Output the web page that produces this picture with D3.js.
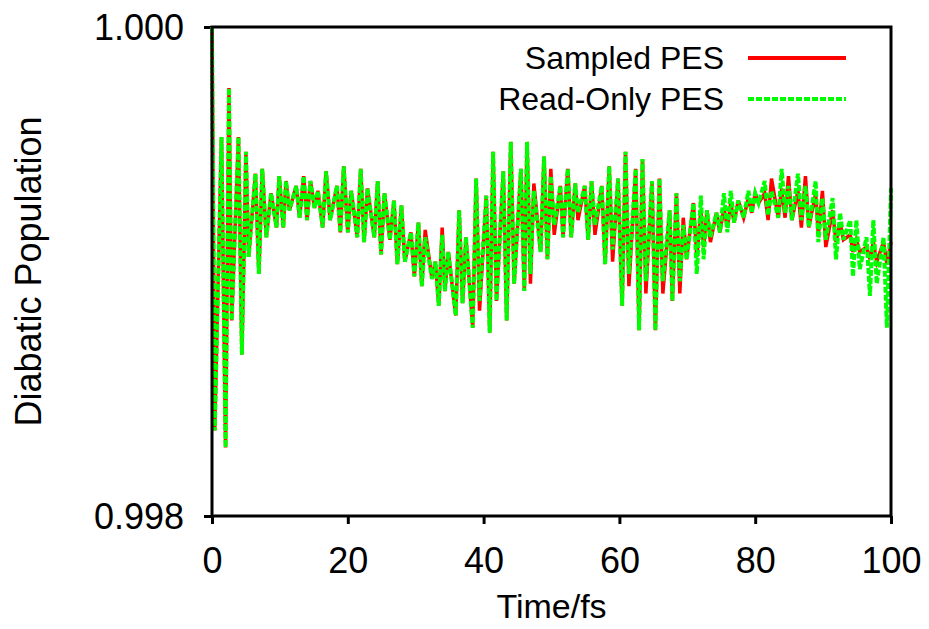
<!DOCTYPE html>
<html>
<head>
<meta charset="utf-8">
<script src="https://cdn.jsdelivr.net/npm/d3@7"></script>
<style>
body { margin: 0; background: #fff; }
text { font-family: "Liberation Sans", Arial, sans-serif; fill: #000; }
</style>
</head>
<body>
<script>
// time (fs) of each sample
var times = [
  0, 0.4, 1.4, 2.0, 2.5, 2.9, 3.9, 4.4, 5.0, 5.4,
  6.4, 6.9, 7.4, 8.0, 8.7, 9.5, 9.9, 10.5, 10.9, 11.4,
  12.4, 12.9, 13.5, 14.0, 14.5, 15.1, 15.6, 16.3, 16.8, 17.4,
  18.4, 18.9, 19.4, 20.0, 20.5, 21.4, 21.9, 22.4, 22.9, 23.9,
  24.4, 24.9, 25.4, 26.2, 26.8, 27.3, 27.9, 28.4, 29.3, 29.8,
  30.4, 30.9, 31.4, 32.4, 32.9, 33.4, 33.9, 34.3, 34.8, 35.9,
  36.4, 36.9, 37.4, 38.4, 38.9, 39.4, 40.4, 40.9, 41.4, 41.9,
  42.9, 43.4, 44.0, 44.5, 45.5, 46.0, 46.4, 46.9, 47.4, 48.4,
  48.9, 49.4, 49.9, 50.4, 51.3, 51.7, 52.4, 52.9, 53.5, 53.9,
  54.9, 55.4, 55.9, 56.4, 57.4, 57.9, 58.5, 59.0, 59.8, 60.4,
  60.9, 61.4, 62.4, 62.9, 63.4, 63.9, 64.8, 65.3, 65.9, 66.4,
  67.4, 67.8, 68.4, 68.9, 69.4, 69.9, 70.9, 71.4, 72.0, 72.4,
  72.9, 73.4, 74.3, 74.8, 75.4, 75.9, 76.4, 76.9, 77.5, 78.3,
  79.0, 79.5, 80.0, 80.5, 81.4, 81.9, 82.4, 83.4, 83.9, 84.4,
  84.9, 85.4, 86.3, 86.8, 87.4, 87.9, 88.9, 89.3, 89.9, 90.4,
  91.4, 91.9, 92.5, 93.0, 94.0, 94.4, 94.9, 95.4, 96.4, 96.9,
  97.4, 97.9, 98.9, 99.4, 100.0
];

var sampled = [
  1.00000, 0.99835, 0.99955, 0.99828, 0.99975, 0.99880, 0.99955, 0.99866, 0.99949, 0.99906,
  0.99940, 0.99899, 0.99942, 0.99914, 0.99932, 0.99918, 0.99939, 0.99918, 0.99937, 0.99925,
  0.99935, 0.99922, 0.99939, 0.99921, 0.99937, 0.99926, 0.99933, 0.99918, 0.99941, 0.99921,
  0.99935, 0.99916, 0.99943, 0.99916, 0.99933, 0.99914, 0.99942, 0.99912, 0.99934, 0.99914,
  0.99937, 0.99907, 0.99932, 0.99913, 0.99929, 0.99903, 0.99927, 0.99904, 0.99916, 0.99898,
  0.99920, 0.99894, 0.99917, 0.99897, 0.99904, 0.99886, 0.99918, 0.99892, 0.99908, 0.99882,
  0.99925, 0.99887, 0.99914, 0.99877, 0.99938, 0.99884, 0.99931, 0.99875, 0.99949, 0.99888,
  0.99941, 0.99880, 0.99953, 0.99895, 0.99942, 0.99892, 0.99953, 0.99895, 0.99936, 0.99908,
  0.99947, 0.99905, 0.99942, 0.99915, 0.99935, 0.99914, 0.99942, 0.99914, 0.99936, 0.99921,
  0.99935, 0.99913, 0.99937, 0.99915, 0.99935, 0.99903, 0.99943, 0.99904, 0.99938, 0.99886,
  0.99949, 0.99894, 0.99942, 0.99876, 0.99946, 0.99891, 0.99937, 0.99876, 0.99938, 0.99891,
  0.99925, 0.99888, 0.99932, 0.99891, 0.99922, 0.99905, 0.99928, 0.99906, 0.99925, 0.99910,
  0.99925, 0.99912, 0.99924, 0.99916, 0.99926, 0.99918, 0.99928, 0.99920, 0.99929, 0.99922,
  0.99930, 0.99924, 0.99932, 0.99928, 0.99932, 0.99921, 0.99938, 0.99922, 0.99934, 0.99922,
  0.99939, 0.99921, 0.99933, 0.99918, 0.99939, 0.99918, 0.99932, 0.99915, 0.99933, 0.99910,
  0.99925, 0.99912, 0.99920, 0.99913, 0.99915, 0.99908, 0.99913, 0.99908, 0.99910, 0.99905,
  0.99912, 0.99904, 0.99912, 0.99903, 0.99912
];

var readOnly = [
  1.00000, 0.99835, 0.99955, 0.99828, 0.99975, 0.99880, 0.99955, 0.99866, 0.99949, 0.99906,
  0.99940, 0.99899, 0.99942, 0.99914, 0.99932, 0.99918, 0.99939, 0.99918, 0.99937, 0.99925,
  0.99935, 0.99922, 0.99939, 0.99921, 0.99937, 0.99926, 0.99933, 0.99918, 0.99941, 0.99921,
  0.99935, 0.99916, 0.99943, 0.99916, 0.99933, 0.99914, 0.99942, 0.99912, 0.99934, 0.99914,
  0.99937, 0.99907, 0.99932, 0.99913, 0.99929, 0.99903, 0.99927, 0.99904, 0.99916, 0.99898,
  0.99920, 0.99894, 0.99914, 0.99897, 0.99904, 0.99886, 0.99915, 0.99892, 0.99908, 0.99882,
  0.99925, 0.99887, 0.99914, 0.99877, 0.99938, 0.99888, 0.99931, 0.99875, 0.99949, 0.99888,
  0.99941, 0.99880, 0.99953, 0.99895, 0.99942, 0.99892, 0.99953, 0.99899, 0.99933, 0.99908,
  0.99947, 0.99905, 0.99939, 0.99919, 0.99935, 0.99914, 0.99942, 0.99914, 0.99936, 0.99924,
  0.99935, 0.99913, 0.99937, 0.99919, 0.99935, 0.99903, 0.99943, 0.99909, 0.99938, 0.99886,
  0.99949, 0.99899, 0.99942, 0.99876, 0.99946, 0.99896, 0.99937, 0.99876, 0.99938, 0.99896,
  0.99925, 0.99888, 0.99932, 0.99896, 0.99919, 0.99905, 0.99928, 0.99899, 0.99931, 0.99905,
  0.99925, 0.99914, 0.99924, 0.99916, 0.99932, 0.99916, 0.99933, 0.99920, 0.99929, 0.99922,
  0.99933, 0.99924, 0.99932, 0.99928, 0.99937, 0.99923, 0.99933, 0.99922, 0.99942, 0.99924,
  0.99935, 0.99921, 0.99940, 0.99921, 0.99935, 0.99918, 0.99937, 0.99912, 0.99930, 0.99913,
  0.99930, 0.99905, 0.99924, 0.99913, 0.99921, 0.99898, 0.99921, 0.99901, 0.99914, 0.99890,
  0.99921, 0.99895, 0.99914, 0.99877, 0.99934
];

var seriesNames = ['Sampled PES', 'Read-Only PES'];
var xTicks = [0, 20, 40, 60, 80, 100];
var yTicks = [0.998, 1.000];

var width = 929, height = 629;
var margin = {top: 27, right: 38, bottom: 113, left: 212};
var w = width - margin.left - margin.right;
var h = height - margin.top - margin.bottom;

var svg = d3.select('body').append('svg')
  .attr('width', width)
  .attr('height', height);

var g = svg.append('g')
  .attr('transform', 'translate(' + margin.left + ',' + margin.top + ')');

var x = d3.scaleLinear().domain([0, 100]).range([0, w]);
var y = d3.scaleLinear().domain([0.998, 1.000]).range([h, 0]);

// axes, ticks pointing out
var xAxis = g.append('g')
  .attr('transform', 'translate(0,' + h + ')')
  .call(d3.axisBottom(x).tickValues(xTicks).tickSize(8).tickSizeOuter(0).tickFormat(d3.format('d')));
xAxis.selectAll('text').attr('y', 57).attr('dy', 0);

var yAxis = g.append('g')
  .call(d3.axisLeft(y).tickValues(yTicks).tickSize(8).tickSizeOuter(0).tickFormat(d3.format('.3f')));
yAxis.selectAll('text').attr('x', -28).attr('dy', '0.35em');

g.selectAll('.domain').remove();
g.selectAll('.tick line').attr('stroke', '#000').attr('stroke-width', 3);
g.selectAll('.tick text').style('font-size', '36px');

var line = d3.line()
  .x(d => x(d[0]))
  .y(d => y(d[1]));

g.append('path')
  .datum(d3.zip(times, sampled))
  .attr('d', line)
  .attr('fill', 'none')
  .attr('stroke', '#ff0000')
  .attr('stroke-width', 3.5);

g.append('path')
  .datum(d3.zip(times, readOnly))
  .attr('d', line)
  .attr('fill', 'none')
  .attr('stroke', '#00ff00')
  .attr('stroke-width', 4)
  .attr('stroke-dasharray', '6,2');

// frame
g.append('rect')
  .attr('width', w)
  .attr('height', h)
  .attr('fill', 'none')
  .attr('stroke', '#000')
  .attr('stroke-width', 3);

// legend
var legend = svg.append('g');
var legColors = ['#ff0000', '#00ff00'];
var legDash = [null, '6,2'];
seriesNames.forEach(function(name, i) {
  var ly = 58 + i * 41;
  legend.append('text')
    .attr('x', 724)
    .attr('y', ly)
    .attr('dy', '0.35em')
    .attr('text-anchor', 'end')
    .style('font-size', '32px')
    .text(name);
  legend.append('line')
    .attr('x1', 748).attr('x2', 846)
    .attr('y1', ly).attr('y2', ly)
    .attr('stroke', legColors[i])
    .attr('stroke-width', 4)
    .attr('stroke-dasharray', legDash[i]);
});

// axis titles
svg.append('text')
  .attr('x', margin.left + w / 2)
  .attr('y', 618)
  .attr('text-anchor', 'middle')
  .style('font-size', '34px')
  .text('Time/fs');

svg.append('text')
  .attr('transform', 'translate(41,' + (margin.top + h / 2) + ') rotate(-90)')
  .attr('text-anchor', 'middle')
  .style('font-size', '36px')
  .text('Diabatic Population');
</script>
</body>
</html>
